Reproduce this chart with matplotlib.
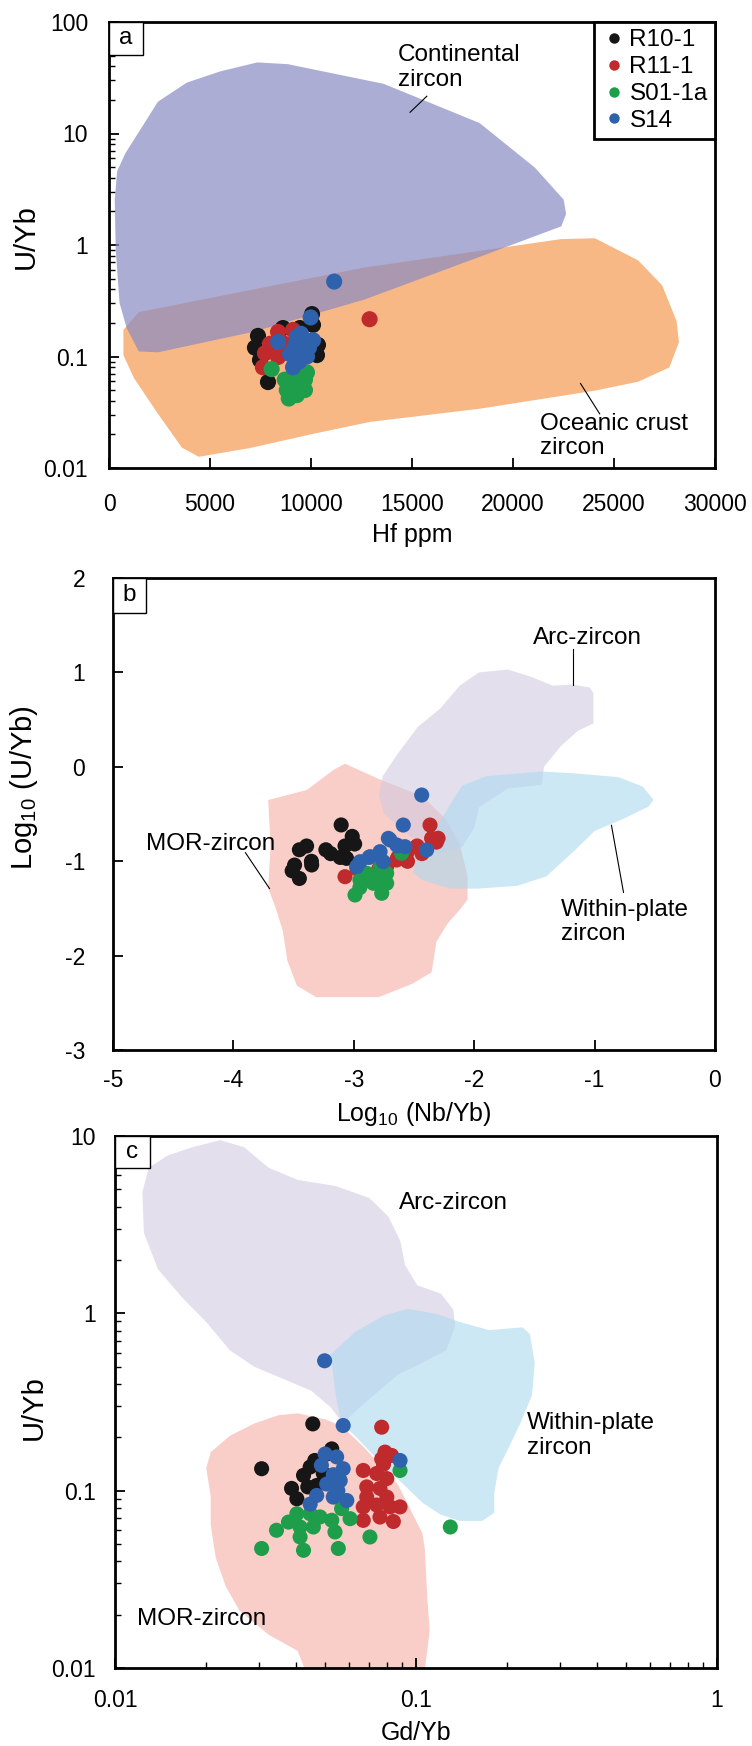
import matplotlib
matplotlib.use('Agg')
import matplotlib.pyplot as plt
from matplotlib.lines import Line2D
from matplotlib.patches import Rectangle
from matplotlib.ticker import FixedLocator, FixedFormatter, LogLocator, NullFormatter

plt.rcParams['font.family'] = ['Liberation Sans', 'DejaVu Sans']
plt.rcParams['mathtext.fontset'] = 'custom'
plt.rcParams['mathtext.rm'] = 'Liberation Sans'
plt.rcParams['axes.unicode_minus'] = False

# ---------------- colours ----------------
C_BLACK, C_RED, C_GREEN, C_BLUE = '#161616', '#BF2A2D', '#1E9D4A', '#2F62AD'
C_CONT, C_OCEAN = '#888BC2', '#F8B886'
C_MOR, C_ARC, C_WPL = '#F9CDC8', '#D2CAE1', '#ACD9EF'

series = ['R10-1', 'R11-1', 'S01-1a', 'S14']
colors = [C_BLACK, C_RED, C_GREEN, C_BLUE]

# ================= PANEL A data (Hf ppm, U/Yb) =================
cont_hf = [285, 404, 808, 1474, 2425, 3851, 5515, 7345, 8842, 13596, 18350, 21084,
           22510, 22629, 22391, 18350, 12646, 7179, 2425, 1474, 880, 523, 333]
cont_uyb = [2.55, 4.59, 6.64, 10.3, 19.3, 28.6, 36.1, 43.4, 41.9, 27.9, 12.4, 4.94,
            2.55, 1.90, 1.47, 0.783, 0.324, 0.167, 0.109, 0.111, 0.179, 0.301, 0.908]
ocean_hf = [1474, 12646, 22391, 24055, 26195, 27383, 28096, 28215, 27740, 26195, 24055,
            18350, 12920, 10300, 6980, 4445, 3613, 2425, 1236, 713, 713]
ocean_uyb = [0.250, 0.628, 1.13, 1.15, 0.728, 0.435, 0.208, 0.134, 0.0798, 0.0594, 0.0494,
             0.034, 0.0259, 0.0206, 0.0151, 0.0126, 0.0152, 0.0306, 0.064, 0.103, 0.173]

a_r10_hf = [7375, 8613, 10345, 10296, 7870, 7475, 10098, 10050, 9450, 7225]
a_r10_uyb = [0.153, 0.180, 0.127, 0.103, 0.059, 0.093, 0.192, 0.240, 0.180, 0.120]
a_r11_hf = [7720, 8370, 7620, 8370, 9110, 7970, 8700, 12900]
a_r11_uyb = [0.107, 0.099, 0.080, 0.166, 0.173, 0.130, 0.130, 0.216]
a_s01_hf = [8050, 8700, 9200, 9700, 9800, 8800, 9300, 9700, 8900, 9300, 9500]
a_s01_uyb = [0.077, 0.062, 0.066, 0.062, 0.072, 0.050, 0.052, 0.050, 0.042, 0.045, 0.058]
a_s14_hf = [8370, 9300, 10100, 9110, 9800, 9600, 8960, 9983, 11148, 9400, 9900, 9200, 9500]
a_s14_uyb = [0.135, 0.150, 0.140, 0.080, 0.100, 0.120, 0.105, 0.224, 0.47, 0.090, 0.120, 0.125, 0.160]

# ================= PANEL B data (log Nb/Yb, log U/Yb) =================
b_mor_x = [-3.711, -3.39, -3.17, -3.073, -2.793, -2.434, -2.235, -2.115, -2.055, -2.055, -2.115,
           -2.215, -2.314, -2.354, -2.514, -2.793, -3.312, -3.472, -3.551, -3.591, -3.651,
           -3.711, -3.691]
b_mor_y = [-0.352, -0.246, -0.034, 0.033, -0.129, -0.311, -0.555, -0.839, -1.163, -1.406, -1.508,
           -1.650, -1.852, -2.177, -2.298, -2.440, -2.440, -2.319, -2.055, -1.731, -1.487,
           -1.285, -0.839]
b_arc_x = [-1.96, -1.72, -1.52, -1.35, -1.18, -1.04, -1.01, -1.01, -1.14, -1.28, -1.42, -1.44,
           -1.72, -1.96, -2.0, -2.1, -2.3, -2.55, -2.75, -2.79, -2.76, -2.64, -2.47, -2.28, -2.12]
b_arc_y = [1.0, 1.03, 0.95, 0.86, 0.87, 0.84, 0.78, 0.46, 0.38, 0.22, 0.0, -0.19,
           -0.23, -0.43, -0.65, -0.85, -0.92, -0.72, -0.5, -0.3, -0.1, 0.13, 0.42, 0.62, 0.86]
b_wpl_x = [-2.51, -2.47, -2.35, -2.2, -2.1, -1.9, -1.44, -1.16, -0.8, -0.6, -0.51, -0.55,
           -0.76, -1.0, -1.16, -1.4, -1.64, -1.96, -2.2, -2.43]
b_wpl_y = [-1.12, -0.92, -0.72, -0.4, -0.2, -0.1, -0.05, -0.07, -0.11, -0.21, -0.35, -0.42,
           -0.55, -0.68, -0.88, -1.16, -1.26, -1.29, -1.29, -1.2]

b_r10_x = [-3.105, -3.013, -3.073, -3.113, -3.192, -3.232, -3.352, -3.392, -3.452, -3.492,
           -3.452, -3.512, -2.993, -3.06, -3.35]
b_r10_y = [-0.616, -0.737, -0.839, -0.960, -0.920, -0.879, -1.001, -0.839, -0.879, -1.041,
           -1.183, -1.102, -0.818, -0.97, -1.04]
b_r11_x = [-3.073, -2.973, -2.793, -2.634, -2.554, -2.474, -2.354, -2.367, -2.30, -2.434,
           -2.727, -2.644, -2.56, -2.478, -2.314]
b_r11_y = [-1.164, -1.082, -1.082, -0.960, -1.001, -0.839, -0.758, -0.617, -0.757, -0.920,
           -1.058, -0.987, -0.916, -0.846, -0.798]
b_s01_x = [-2.99, -2.768, -2.949, -2.838, -2.727, -2.727, -2.603, -2.893, -2.782, -2.95, -2.80]
b_s01_y = [-1.358, -1.34, -1.199, -1.234, -1.128, -1.234, -0.916, -1.128, -1.075, -1.28, -1.16]
b_s14_x = [-2.436, -2.589, -2.395, -2.699, -2.644, -2.782, -2.865, -2.948, -2.976, -2.575,
           -2.755, -2.713, -2.634, -2.873]
b_s14_y = [-0.299, -0.617, -0.881, -0.775, -0.828, -0.899, -0.952, -1.005, -1.058, -0.846,
           -1.005, -0.758, -0.839, -0.960]

# ================= PANEL C data (Gd/Yb, U/Yb) =================
c_arc_x = [0.01294, 0.01496, 0.0180, 0.0224, 0.0269, 0.0324, 0.0404, 0.0541, 0.0700, 0.0809,
           0.0887, 0.0920, 0.101, 0.121, 0.133, 0.135, 0.126, 0.105, 0.0871, 0.0752, 0.0650,
           0.0571, 0.0521, 0.0450, 0.0361, 0.0290, 0.0241, 0.0201, 0.0167, 0.0139, 0.01247, 0.01233]
c_arc_y = [6.62, 7.76, 8.63, 9.48, 8.63, 6.62, 5.66, 5.22, 4.47, 3.52, 2.56, 1.87, 1.44, 1.29,
           1.05, 0.847, 0.618, 0.527, 0.451, 0.365, 0.295, 0.239, 0.295, 0.365, 0.428, 0.500,
           0.618, 0.893, 1.23, 1.77, 2.85, 4.83]
c_wpl_x = [0.0521, 0.0627, 0.0780, 0.0938, 0.117, 0.140, 0.175, 0.226, 0.239, 0.248, 0.243,
           0.222, 0.203, 0.188, 0.182, 0.182, 0.166, 0.140, 0.121, 0.105, 0.0938, 0.0824,
           0.0726, 0.0627, 0.0565, 0.0541]
c_wpl_y = [0.586, 0.783, 0.968, 1.06, 0.993, 0.893, 0.804, 0.834, 0.764, 0.527, 0.346, 0.239,
           0.174, 0.134, 0.0975, 0.0750, 0.0675, 0.0675, 0.0731, 0.0855, 0.103, 0.127, 0.157,
           0.204, 0.239, 0.346]
c_mor_x = [0.0404, 0.0502, 0.0571, 0.0675, 0.0871, 0.105, 0.107, 0.109, 0.111, 0.109, 0.105,
           0.045, 0.0404, 0.0324, 0.0259, 0.0233, 0.0216, 0.0208, 0.0208, 0.0201, 0.0208,
           0.0241, 0.0290, 0.0348]
c_mor_y = [0.273, 0.252, 0.229, 0.174, 0.108, 0.0575, 0.0467, 0.0248, 0.0163, 0.0125, 0.0079,
           0.0079, 0.0125, 0.0154, 0.0211, 0.0290, 0.0420, 0.0640, 0.0927, 0.134, 0.165,
           0.204, 0.239, 0.266]

c_r10_x = [0.0454, 0.0307, 0.0525, 0.0423, 0.0445, 0.0386, 0.0402, 0.0468, 0.0461, 0.0492, 0.0437, 0.0505]
c_r10_y = [0.238, 0.133, 0.172, 0.122, 0.136, 0.103, 0.090, 0.107, 0.148, 0.125, 0.105, 0.161]
c_r11_x = [0.0769, 0.0789, 0.0769, 0.0830, 0.0668, 0.0740, 0.0800, 0.0686, 0.0759, 0.0668,
           0.0740, 0.0820, 0.0885, 0.0668, 0.0759, 0.0841, 0.0686, 0.0800, 0.078]
c_r11_y = [0.228, 0.165, 0.151, 0.158, 0.130, 0.125, 0.117, 0.105, 0.103, 0.081, 0.083, 0.081,
           0.081, 0.068, 0.071, 0.067, 0.092, 0.092, 0.141]
c_s01_x = [0.0885, 0.130, 0.0307, 0.0423, 0.0552, 0.0703, 0.0604, 0.0344, 0.0377, 0.0412,
           0.0412, 0.0456, 0.0480, 0.0525, 0.0538, 0.0402, 0.0445, 0.0566]
c_s01_y = [0.130, 0.0624, 0.0472, 0.0461, 0.0472, 0.0548, 0.0695, 0.0598, 0.0665, 0.0624,
           0.0548, 0.0624, 0.0711, 0.0681, 0.0585, 0.0741, 0.0741, 0.0792]
c_s14_x = [0.0497, 0.0573, 0.0885, 0.0499, 0.0545, 0.0485, 0.0573, 0.0560, 0.0505, 0.0589,
           0.0531, 0.0468, 0.0445, 0.0531, 0.055]
c_s14_y = [0.54, 0.233, 0.148, 0.161, 0.155, 0.139, 0.133, 0.114, 0.109, 0.088, 0.092, 0.094,
           0.084, 0.123, 0.100]

# ---------------- figure ----------------
W, H = 752, 1746
fig = plt.figure(figsize=(W / 100, H / 100), dpi=100)

def px_axes(left, top, right, bottom):
    return fig.add_axes([left / W, 1 - bottom / H, (right - left) / W, (bottom - top) / H])

axA = px_axes(109, 22, 715, 468)
axB = px_axes(113, 578, 715, 1050)
axC = px_axes(115, 1136, 717, 1668)

FS = 16.5      # tick labels
TFS = 17.5     # annotations
XLFS = 18      # x labels
YLFS = 21      # y labels

def style(ax, xpad, ypad):
    for s in ax.spines.values():
        s.set_linewidth(2.0)
        s.set_zorder(10)
    ax.tick_params(which='major', direction='in', length=7, width=1.3, labelsize=FS,
                   top=False, right=False)
    ax.tick_params(which='minor', direction='in', length=4, width=1.0, top=False, right=False)
    ax.tick_params(axis='x', pad=xpad)
    ax.tick_params(axis='y', pad=ypad)

def labels(ax, xl, yl, xy_x, xy_y):
    ax.set_xlabel(xl, fontsize=XLFS, va='center')
    ax.set_ylabel(yl, fontsize=YLFS, va='center')
    ax.xaxis.set_label_coords(*xy_x)
    ax.yaxis.set_label_coords(*xy_y)

def panel_box(ax, letter, wpx, hpx):
    pos = ax.get_position()
    w = wpx / (pos.width * W)
    h = hpx / (pos.height * H)
    ax.add_patch(Rectangle((0, 1 - h), w, h, transform=ax.transAxes, facecolor='white',
                           edgecolor='black', lw=1.0, zorder=11, clip_on=False))
    ax.text(w / 2, 1 - h / 2, letter, transform=ax.transAxes, ha='center', va='center',
            fontsize=TFS, zorder=12)

def scatter_all(ax, xs, ys, s):
    for x, y, c in zip(xs, ys, colors):
        ax.scatter(x, y, s=s, color=c, edgecolors='none', zorder=5)

# ---------- Panel a ----------
ax = axA
ax.fill(ocean_hf, ocean_uyb, color=C_OCEAN, lw=0, zorder=1)
ax.fill(cont_hf, cont_uyb, color=C_CONT, alpha=0.7, lw=0, zorder=2)
scatter_all(ax, [a_r10_hf, a_r11_hf, a_s01_hf, a_s14_hf],
            [a_r10_uyb, a_r11_uyb, a_s01_uyb, a_s14_uyb], 135)
ax.set_yscale('log')
ax.set_xlim(0, 30000)
ax.set_ylim(0.01, 100)
ax.set_xticks([0, 5000, 10000, 15000, 20000, 25000, 30000])
ax.set_xticklabels(['0', '5000', '10000', '15000', '20000', '25000', '30000'])
ax.yaxis.set_major_locator(FixedLocator([0.01, 0.1, 1, 10, 100]))
ax.yaxis.set_major_formatter(FixedFormatter(['0.01', '0.1', '1', '10', '100']))
ax.yaxis.set_minor_locator(LogLocator(base=10, subs=range(2, 10)))
ax.yaxis.set_minor_formatter(NullFormatter())
style(ax, 18, 15)
labels(ax, 'Hf ppm', 'U/Yb', (0.5, -0.150), (-0.137, 0.52))
ax.text(14310, 38.9, 'Continental\nzircon', fontsize=TFS, ha='left', va='center', linespacing=1.15, zorder=6)
ax.plot([15735, 14904], [21.6, 15.5], color='black', lw=0.8, zorder=6)
ax.text(21322, 0.0194, 'Oceanic crust\nzircon', fontsize=TFS, ha='left', va='center', linespacing=1.15, zorder=6)
ax.plot([23341, 24292], [0.0573, 0.0306], color='black', lw=0.8, zorder=6)
handles = [Line2D([], [], ls='none', marker='o', markersize=7.5, color=c, markeredgewidth=0)
           for c in colors]
leg = ax.legend(handles, series, loc='upper right', borderaxespad=0, frameon=True,
                fancybox=False, edgecolor='black', framealpha=1, fontsize=TFS,
                handletextpad=0.15, handlelength=1.0, labelspacing=0.2, borderpad=0.3)
leg.get_frame().set_linewidth(2.0)
leg.set_zorder(20)
panel_box(ax, 'a', 34, 33)

# ---------- Panel b ----------
ax = axB
ax.fill(b_mor_x, b_mor_y, color=C_MOR, lw=0, zorder=1)
ax.fill(b_arc_x, b_arc_y, color=C_ARC, alpha=0.6, lw=0, zorder=2)
ax.fill(b_wpl_x, b_wpl_y, color=C_WPL, alpha=0.6, lw=0, zorder=3)
scatter_all(ax, [b_r10_x, b_r11_x, b_s01_x, b_s14_x], [b_r10_y, b_r11_y, b_s01_y, b_s14_y], 118)
ax.set_xlim(-5, 0)
ax.set_ylim(-3, 2)
ax.set_xticks([-5, -4, -3, -2, -1, 0])
ax.set_yticks([-3, -2, -1, 0, 1, 2])
style(ax, 14, 20)
labels(ax, 'Log$_{\\mathregular{10}}$ (Nb/Yb)', 'Log$_{\\mathregular{10}}$ (U/Yb)',
       (0.5, -0.136), (-0.148, 0.555))
ax.text(-1.06, 1.36, 'Arc-zircon', fontsize=TFS, ha='center', va='center', zorder=6)
ax.plot([-1.18, -1.18], [1.25, 0.87], color='black', lw=0.8, zorder=6)
ax.text(-4.19, -0.82, 'MOR-zircon', fontsize=TFS, ha='center', va='center', zorder=6)
ax.plot([-3.90, -3.70], [-0.91, -1.29], color='black', lw=0.8, zorder=6)
ax.text(-1.28, -1.645, 'Within-plate\nzircon', fontsize=TFS, ha='left', va='center', linespacing=1.15, zorder=6)
ax.plot([-0.86, -0.76], [-0.62, -1.33], color='black', lw=0.8, zorder=6)
panel_box(ax, 'b', 33, 35)

# ---------- Panel c ----------
ax = axC
ax.fill(c_mor_x, c_mor_y, color=C_MOR, lw=0, zorder=1)
ax.fill(c_arc_x, c_arc_y, color=C_ARC, alpha=0.6, lw=0, zorder=2)
ax.fill(c_wpl_x, c_wpl_y, color=C_WPL, alpha=0.6, lw=0, zorder=3)
scatter_all(ax, [c_r10_x, c_r11_x, c_s01_x, c_s14_x], [c_r10_y, c_r11_y, c_s01_y, c_s14_y], 118)
ax.set_xscale('log')
ax.set_yscale('log')
ax.set_xlim(0.01, 1)
ax.set_ylim(0.01, 10)
ax.xaxis.set_major_locator(FixedLocator([0.01, 0.1, 1]))
ax.xaxis.set_major_formatter(FixedFormatter(['0.01', '0.1', '1']))
ax.yaxis.set_major_locator(FixedLocator([0.01, 0.1, 1, 10]))
ax.yaxis.set_major_formatter(FixedFormatter(['0.01', '0.1', '1', '10']))
for axis in (ax.xaxis, ax.yaxis):
    axis.set_minor_locator(LogLocator(base=10, subs=range(2, 10)))
    axis.set_minor_formatter(NullFormatter())
style(ax, 15, 14)
labels(ax, 'Gd/Yb', 'U/Yb', (0.5, -0.122), (-0.135, 0.49))
ax.text(0.088, 4.17, 'Arc-zircon', fontsize=TFS, ha='left', va='center', zorder=6)
ax.text(0.234, 0.204, 'Within-plate\nzircon', fontsize=TFS, ha='left', va='center', linespacing=1.15, zorder=6)
ax.text(0.0118, 0.019, 'MOR-zircon', fontsize=TFS, ha='left', va='center', zorder=6)
panel_box(ax, 'c', 35, 32)

fig.savefig('out.png', dpi=100)
